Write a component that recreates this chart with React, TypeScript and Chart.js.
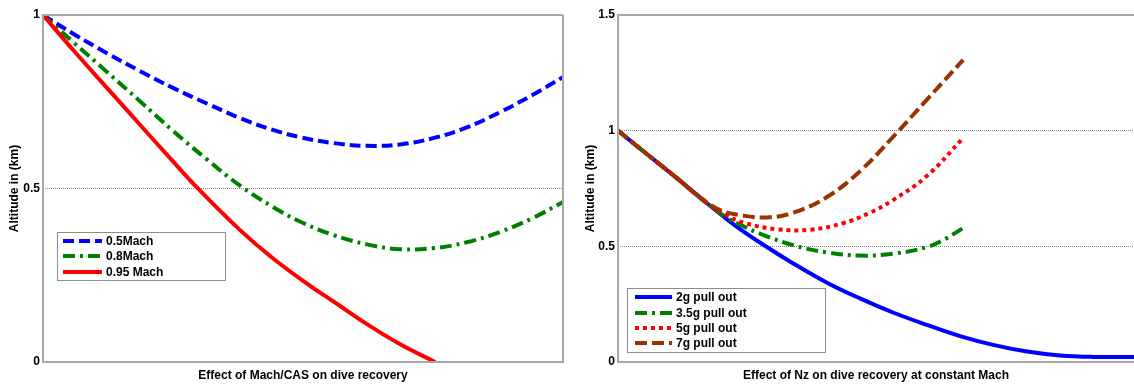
import React, { useEffect, useRef } from "react";
import { Chart, registerables } from "chart.js";

Chart.register(...registerables);

const FONT = "'Liberation Sans', Arial, sans-serif";

// ---------- Left chart: Effect of Mach/CAS on dive recovery ----------
const leftYTicks = [0, 0.5, 1];
const machX = [0, 0.058, 0.123, 0.187, 0.25, 0.315, 0.379, 0.442, 0.494, 0.558, 0.623, 0.687, 0.75, 0.815, 0.879, 0.942, 1.0];
const mach05 = [1, 0.946, 0.89, 0.838, 0.79, 0.745, 0.703, 0.669, 0.648, 0.631, 0.623, 0.627, 0.645, 0.676, 0.72, 0.77, 0.821];
const mach08 = [1, 0.922, 0.836, 0.751, 0.666, 0.584, 0.508, 0.447, 0.405, 0.366, 0.339, 0.325, 0.328, 0.345, 0.375, 0.415, 0.461];
const mach095X = [0, 0.058, 0.123, 0.187, 0.25, 0.296, 0.379, 0.442, 0.513, 0.558, 0.623, 0.687, 0.754];
const mach095 = [1, 0.899, 0.79, 0.683, 0.578, 0.503, 0.38, 0.299, 0.22, 0.175, 0.109, 0.051, 0];
const leftLabels = ["0.5Mach", "0.8Mach", "0.95 Mach"];

// ---------- Right chart: Effect of Nz on dive recovery at constant Mach ----------
const rightYTicks = [0, 0.5, 1, 1.5];
const g2X = [0, 0.048, 0.114, 0.172, 0.21, 0.242, 0.281, 0.339, 0.405, 0.469, 0.533, 0.599, 0.663, 0.727, 0.793, 0.857, 0.921, 1.0];
const g2 = [1, 0.913, 0.795, 0.687, 0.619, 0.566, 0.508, 0.427, 0.343, 0.275, 0.214, 0.16, 0.112, 0.074, 0.045, 0.028, 0.022, 0.022];
const g35X = [0, 0.048, 0.114, 0.172, 0.21, 0.242, 0.275, 0.339, 0.405, 0.469, 0.533, 0.599, 0.634, 0.669];
const g35 = [1, 0.913, 0.795, 0.687, 0.625, 0.588, 0.555, 0.505, 0.474, 0.46, 0.468, 0.497, 0.532, 0.579];
const g5X = [0, 0.048, 0.114, 0.172, 0.21, 0.242, 0.308, 0.372, 0.436, 0.488, 0.533, 0.599, 0.669];
const g5 = [1, 0.913, 0.795, 0.687, 0.635, 0.603, 0.574, 0.572, 0.6, 0.645, 0.7, 0.805, 0.968];
const g7X = [0, 0.048, 0.114, 0.16, 0.2, 0.242, 0.289, 0.339, 0.405, 0.469, 0.533, 0.599, 0.669];
const g7 = [1, 0.913, 0.795, 0.71, 0.655, 0.633, 0.625, 0.645, 0.713, 0.825, 0.973, 1.135, 1.306];
const rightLabels = ["2g pull out", "3.5g pull out", "5g pull out", "7g pull out"];

const pts = (xs: number[], ys: number[]) => ys.map((y, i) => ({ x: xs[i], y }));

const framePlugin = {
  id: "frame",
  afterDatasetsDraw(chart: any, _a: any, opts: any) {
    const { ctx, chartArea } = chart;
    const { left, top, right, bottom } = chartArea;
    ctx.save();
    ctx.strokeStyle = "#a8a8a8";
    ctx.lineWidth = 2;
    ctx.setLineDash([]);
    ctx.beginPath();
    ctx.moveTo(opts.openRight ? chart.width : right, top);
    ctx.lineTo(left, top);
    ctx.lineTo(left, bottom);
    ctx.lineTo(opts.openRight ? chart.width : right, bottom);
    if (!opts.openRight) {
      ctx.lineTo(right, top);
    }
    ctx.stroke();
    ctx.restore();
  },
};

const legendPlugin = {
  id: "boxLegend",
  afterDraw(chart: any, _a: any, opts: any) {
    const { ctx } = chart;
    const { box, rows, sample, textX, order } = opts;
    ctx.save();
    ctx.fillStyle = "#ffffff";
    ctx.fillRect(box[0], box[1], box[2] - box[0], box[3] - box[1]);
    ctx.strokeStyle = "#8c8c8c";
    ctx.lineWidth = 1;
    ctx.setLineDash([]);
    ctx.strokeRect(box[0] + 0.5, box[1] + 0.5, box[2] - box[0], box[3] - box[1]);
    order.forEach((dsIndex: number, i: number) => {
      const ds = chart.data.datasets[dsIndex];
      ctx.strokeStyle = ds.borderColor;
      ctx.lineWidth = 4;
      ctx.lineCap = "butt";
      ctx.setLineDash(ds.borderDash || []);
      ctx.beginPath();
      ctx.moveTo(sample[0], rows[i]);
      ctx.lineTo(sample[1], rows[i]);
      ctx.stroke();
      ctx.setLineDash([]);
      ctx.fillStyle = "#000";
      ctx.font = `bold 12px ${FONT}`;
      ctx.textBaseline = "middle";
      ctx.textAlign = "left";
      ctx.fillText(ds.label, textX, rows[i] + 1);
    });
    ctx.restore();
  },
};

function makeConfig(opts: {
  datasets: any[];
  ticks: number[];
  yMax: number;
  xTitle: string;
  yTitlePad: number;
  padRight: number;
  legend: any;
  openRight: boolean;
}) {
  return {
    type: "line" as const,
    data: { datasets: opts.datasets },
    plugins: [framePlugin, legendPlugin],
    options: {
      responsive: false,
      animation: false as const,
      devicePixelRatio: 1,
      layout: { padding: { left: 0, top: 15, right: opts.padRight, bottom: 0 } },
      elements: { point: { radius: 0 }, line: { borderCapStyle: "butt" } },
      plugins: {
        legend: { display: false },
        tooltip: { enabled: false },
        frame: { openRight: opts.openRight },
        boxLegend: opts.legend,
      },
      scales: {
        x: {
          type: "linear" as const,
          min: 0,
          max: 1,
          ticks: { display: false },
          grid: { display: false, drawTicks: false },
          border: { display: false },
          afterFit: (s: any) => {
            s.height = 23;
          },
          title: {
            display: true,
            text: opts.xTitle,
            color: "#000",
            font: { family: FONT, size: 12, weight: "bold" },
            padding: { top: 0, bottom: 2 },
          },
        },
        y: {
          type: "linear" as const,
          min: 0,
          max: opts.yMax,
          afterBuildTicks: (s: any) => {
            s.ticks = opts.ticks.map((v) => ({ value: v }));
          },
          afterFit: (s: any) => {
            s.width = 43;
          },
          ticks: {
            color: "#000",
            padding: 3,
            font: { family: FONT, size: 12, weight: "bold" },
            callback: (v: any) => String(v),
          },
          grid: {
            drawTicks: false,
            lineWidth: 1,
            color: (c: any) =>
              c.tick && c.tick.value > 0 && c.tick.value < opts.yMax ? "#8a8a8a" : "rgba(0,0,0,0)",
          },
          border: { display: false, dash: [1, 1] },
          title: {
            display: true,
            text: "Altitude in (km)",
            color: "#000",
            font: { family: FONT, size: 12, weight: "bold" },
            padding: { top: opts.yTitlePad, bottom: 0 },
          },
        },
      },
    },
  };
}

function ChartCanvas({ config, width, height, left }: any) {
  const ref = useRef<HTMLCanvasElement>(null);
  useEffect(() => {
    const chart = new Chart(ref.current as HTMLCanvasElement, config());
    return () => chart.destroy();
  }, []);
  return (
    <canvas
      ref={ref}
      width={width}
      height={height}
      style={{ position: "absolute", left, top: 0, width, height }}
    />
  );
}

const lineStyle = (label: string, color: string, dash: number[], data: any[]) => ({
  label,
  data,
  borderColor: color,
  backgroundColor: color,
  borderWidth: 4,
  borderDash: dash,
  fill: false,
  pointRadius: 0,
  tension: 0.4,
});

export default function App() {
  const leftConfig = () =>
    makeConfig({
      datasets: [
        lineStyle(leftLabels[2], "#ff0000", [], pts(mach095X, mach095)),
        lineStyle(leftLabels[1], "#008000", [12, 5, 3, 5], pts(machX, mach08)),
        lineStyle(leftLabels[0], "#0000ff", [11, 5], pts(machX, mach05)),
      ],
      ticks: leftYTicks,
      yMax: 1,
      xTitle: "Effect of Mach/CAS on dive recovery",
      yTitlePad: 7,
      padRight: 12,
      openRight: false,
      legend: {
        box: [57, 232, 225, 280],
        rows: [241, 256, 272],
        sample: [63, 102],
        textX: 106,
        order: [2, 1, 0],
      },
    });

  const rightConfig = () =>
    makeConfig({
      datasets: [
        lineStyle(rightLabels[3], "#993300", [12, 5], pts(g7X, g7)),
        lineStyle(rightLabels[2], "#ff0000", [4, 4], pts(g5X, g5)),
        lineStyle(rightLabels[1], "#008000", [12, 5, 3, 5], pts(g35X, g35)),
        lineStyle(rightLabels[0], "#0000ff", [], pts(g2X, g2)),
      ],
      ticks: rightYTicks,
      yMax: 1.5,
      xTitle: "Effect of Nz on dive recovery at constant Mach",
      yTitlePad: 8,
      padRight: 0,
      openRight: true,
      legend: {
        box: [52, 288, 250, 352],
        rows: [297, 313, 328, 343],
        sample: [60, 97],
        textX: 101,
        order: [3, 2, 1, 0],
      },
    });

  return (
    <div style={{ position: "absolute", left: 0, top: 0, width: 1134, height: 385, background: "#fff", overflow: "hidden" }}>
      <ChartCanvas config={leftConfig} width={575} height={385} left={0} />
      <ChartCanvas config={rightConfig} width={559} height={385} left={575} />
    </div>
  );
}
